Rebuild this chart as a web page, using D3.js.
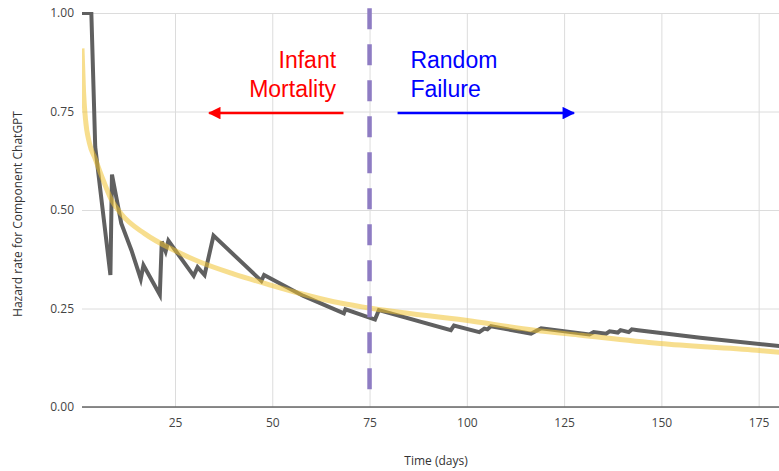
<!DOCTYPE html>
<html>
<head>
<meta charset="utf-8">
<script src="https://cdn.jsdelivr.net/npm/d3@7"></script>
<style>
  body { margin: 0; background: #fff; }
  svg { display: block; }
  .tick text { font-family: "Open Sans", sans-serif; font-size: 12px; fill: #444; }
</style>
</head>
<body>
<div id="chart"></div>
<script>
/* global d3 */

// Hazard rate: [ day, rate ]
var observed = [
  [ 1.1, 1.0 ], [ 3.5, 1.0 ], [ 4.5, 0.66 ], [ 8.4, 0.335 ], [ 8.8, 0.59 ],
  [ 11.2, 0.466 ], [ 13.8, 0.398 ], [ 16.2, 0.325 ], [ 16.9, 0.36 ],
  [ 21.1, 0.285 ], [ 21.6, 0.42 ], [ 22.6, 0.395 ], [ 23.3, 0.422 ],
  [ 29.8, 0.333 ], [ 30.8, 0.355 ], [ 32.6, 0.335 ], [ 34.9, 0.435 ],
  [ 47.2, 0.32 ], [ 47.9, 0.335 ], [ 58, 0.282 ], [ 68.4, 0.238 ],
  [ 68.8, 0.248 ], [ 76.4, 0.222 ], [ 77.4, 0.246 ], [ 95.9, 0.195 ],
  [ 96.7, 0.207 ], [ 103.2, 0.19 ], [ 104.5, 0.199 ], [ 105.3, 0.197 ],
  [ 106.2, 0.205 ], [ 116.5, 0.186 ], [ 119.1, 0.2 ], [ 131.5, 0.184 ],
  [ 132.6, 0.19 ], [ 135.8, 0.186 ], [ 136.7, 0.192 ], [ 138.8, 0.189 ],
  [ 139.5, 0.195 ], [ 141.6, 0.19 ], [ 142.4, 0.197 ], [ 144, 0.195 ],
  [ 160, 0.176 ], [ 181, 0.154 ]
];

// Fitted curve: [ day, rate ]
var fitted = [
  [ 1.1, 0.91 ], [ 1.5, 0.80 ], [ 2, 0.73 ], [ 3, 0.67 ], [ 4.5, 0.63 ],
  [ 6, 0.59 ], [ 8.6, 0.527 ], [ 11.2, 0.49 ], [ 17.2, 0.44 ],
  [ 24.9, 0.397 ], [ 31.4, 0.368 ], [ 40, 0.338 ], [ 49.7, 0.309 ],
  [ 57.2, 0.288 ], [ 65.8, 0.267 ], [ 74.4, 0.252 ], [ 99.7, 0.22 ],
  [ 117.4, 0.195 ], [ 129.4, 0.182 ], [ 149.6, 0.161 ], [ 174.5, 0.144 ],
  [ 181, 0.138 ]
];

var xTicks = [ 25, 50, 75, 100, 125, 150, 175 ];
var yTicks = [ 0, 0.25, 0.5, 0.75, 1 ];
var splitDay = 75;
var leftLabel = [ "Infant", "Mortality" ];
var rightLabel = [ "Random", "Failure" ];

var margin = { top: 13, right: 0, bottom: 64, left: 82 },
  width = 779,
  height = 471,
  innerWidth = 697,
  innerHeight = height - margin.top - margin.bottom;

// the plot runs a little past the right edge of the picture
var xScale = d3.scaleLinear().domain( [ 1.1, 181 ] ).range( [ 0, 700 ] );
var yScale = d3.scaleLinear().domain( [ 0, 1 ] ).range( [ innerHeight, 0 ] );

var svg = d3.select( "#chart" ).append( "svg" )
  .attr( "width", width )
  .attr( "height", height );

svg.append( "defs" ).append( "clipPath" ).attr( "id", "plot" )
  .append( "rect" )
    .attr( "x", 0 ).attr( "y", -1 )
    .attr( "width", innerWidth ).attr( "height", innerHeight + 1 );

["red", "blue"].forEach( function( c ) {
  svg.select( "defs" ).append( "marker" )
    .attr( "id", "head-" + c )
    .attr( "viewBox", "0 0 10 10" )
    .attr( "refX", 9 ).attr( "refY", 5 )
    .attr( "markerWidth", 6 ).attr( "markerHeight", 5 )
    .attr( "markerUnits", "strokeWidth" )
    .attr( "orient", "auto" )
    .append( "path" )
      .attr( "d", "M0,0L10,5L0,10Z" )
      .attr( "fill", c === "red" ? "#ff0000" : "#0000ff" );
} );

var g = svg.append( "g" )
  .attr( "transform", "translate(" + margin.left + "," + margin.top + ")" );

// Grid
g.append( "g" )
  .attr( "transform", "translate(0," + innerHeight + ")" )
  .call( d3.axisBottom( xScale ).tickValues( xTicks ).tickSize( -innerHeight ).tickPadding( 11 ) )
  .call( function( a ) {
    a.select( ".domain" ).remove();
    a.selectAll( ".tick line" ).attr( "stroke", "#dcdcdc" );
  } );

g.append( "g" )
  .call( d3.axisLeft( yScale ).tickValues( yTicks ).tickFormat( d3.format( ".2f" ) )
    .tickSize( -innerWidth ).tickPadding( 8 ) )
  .call( function( a ) {
    a.select( ".domain" ).remove();
    a.selectAll( ".tick line" ).attr( "stroke", "#dcdcdc" );
  } );

// Baseline
g.append( "line" )
  .attr( "x1", 0 ).attr( "x2", innerWidth )
  .attr( "y1", yScale( 0 ) ).attr( "y2", yScale( 0 ) )
  .attr( "stroke", "#666" ).attr( "stroke-width", 1.5 );

var line = d3.line()
  .x( function( d ) { return xScale( d[ 0 ] ); } )
  .y( function( d ) { return yScale( d[ 1 ] ); } );

var plot = g.append( "g" ).attr( "clip-path", "url(#plot)" );

plot.append( "path" )
  .datum( observed )
  .attr( "d", line )
  .attr( "fill", "none" )
  .attr( "stroke", "#606060" )
  .attr( "stroke-width", 4 )
  .attr( "stroke-linejoin", "miter" );

plot.append( "path" )
  .datum( fitted )
  .attr( "d", line.curve( d3.curveMonotoneX ) )
  .attr( "fill", "none" )
  .attr( "stroke", "#f1c232" )
  .attr( "stroke-opacity", 0.55 )
  .attr( "stroke-width", 5 );

// Split line
g.append( "line" )
  .attr( "x1", xScale( splitDay ) ).attr( "x2", xScale( splitDay ) )
  .attr( "y1", yScale( 1.012 ) ).attr( "y2", yScale( 0.012 ) )
  .attr( "stroke", "#8e7cc3" )
  .attr( "stroke-width", 4.5 )
  .attr( "stroke-dasharray", "21,15" );

// Annotations
var ay = yScale( 0.746 );
g.append( "line" )
  .attr( "x1", xScale( 68.3 ) ).attr( "x2", xScale( 33.8 ) )
  .attr( "y1", ay ).attr( "y2", ay )
  .attr( "stroke", "#ff0000" ).attr( "stroke-width", 2.5 )
  .attr( "marker-end", "url(#head-red)" );

g.append( "line" )
  .attr( "x1", xScale( 82.2 ) ).attr( "x2", xScale( 127.5 ) )
  .attr( "y1", ay ).attr( "y2", ay )
  .attr( "stroke", "#0000ff" ).attr( "stroke-width", 2.5 )
  .attr( "marker-end", "url(#head-blue)" );

var font = "'Liberation Sans', Arial, sans-serif";
g.append( "text" )
  .attr( "text-anchor", "end" )
  .attr( "font-family", font ).attr( "font-size", 23 )
  .attr( "fill", "#ff0000" )
  .selectAll( "tspan" ).data( leftLabel ).join( "tspan" )
    .attr( "x", xScale( 66.4 ) )
    .attr( "y", function( d, i ) { return 55 + i * 29; } )
    .text( function( d ) { return d; } );

g.append( "text" )
  .attr( "font-family", font ).attr( "font-size", 23 )
  .attr( "fill", "#0000ff" )
  .selectAll( "tspan" ).data( rightLabel ).join( "tspan" )
    .attr( "x", xScale( 85.5 ) )
    .attr( "y", function( d, i ) { return 55 + i * 29; } )
    .text( function( d ) { return d; } );

// Axis titles
svg.append( "text" )
  .attr( "transform", "translate(22," + ( margin.top + innerHeight / 2 + 4 ) + ") rotate(-90)" )
  .attr( "text-anchor", "middle" )
  .attr( "font-family", "'Open Sans', sans-serif" )
  .attr( "font-size", 12 )
  .attr( "fill", "#333" )
  .text( "Hazard rate for Component ChatGPT" );

svg.append( "text" )
  .attr( "x", 436 ).attr( "y", 465 )
  .attr( "text-anchor", "middle" )
  .attr( "font-family", "'Open Sans', sans-serif" )
  .attr( "font-size", 12 )
  .attr( "fill", "#333" )
  .text( "Time (days)" );
</script>
</body>
</html>
